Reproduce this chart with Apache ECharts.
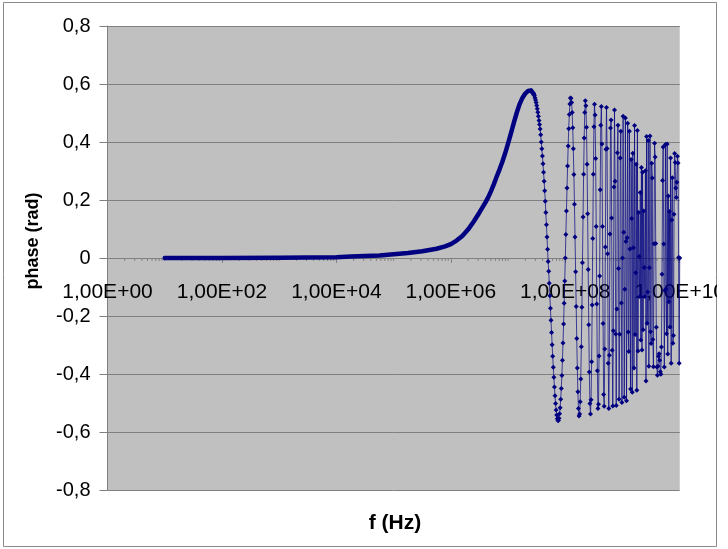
<!DOCTYPE html>
<html>
<head>
<meta charset="utf-8">
<script src="https://cdn.jsdelivr.net/npm/echarts@6/dist/echarts.min.js"></script>
<style>
  html, body { margin: 0; padding: 0; background: #ffffff; }
  #wrap { position: absolute; left: 0; top: 0; width: 717px; height: 549px; overflow: hidden; }
  #chart { width: 728px; height: 549px; }
</style>
</head>
<body>
<div id="wrap"><div id="chart"></div></div>
<script>
// Frequency is stored as its decade exponent: f = 10^decade Hz.
// Low-frequency band up to the first maximum (densely sampled, drawn as a solid trace).
const lowDecades = [1.0, 2.0, 3.0, 3.5, 4.0, 4.25, 4.5, 4.75, 5.0, 5.25,
  5.5, 5.75, 5.9, 6.0, 6.1, 6.2, 6.3, 6.4, 6.5, 6.6,
  6.65, 6.7, 6.75, 6.8, 6.85, 6.9, 6.95, 7.0, 7.05, 7.1,
  7.15, 7.2, 7.25, 7.3, 7.35, 7.4, 7.45];
const lowPhase = [0, 0, 0.001, 0.002, 0.003, 0.005, 0.007, 0.009, 0.013, 0.017,
  0.023, 0.032, 0.040, 0.048, 0.060, 0.076, 0.098, 0.126, 0.157, 0.19,
  0.208, 0.23, 0.254, 0.28, 0.305, 0.332, 0.362, 0.395, 0.43, 0.466,
  0.5, 0.53, 0.552, 0.567, 0.576, 0.578, 0.565];

// Sweep points from the first maximum to 10 GHz (one marker per sample).
const sweepDecades = [
  7.45, 7.46, 7.47, 7.48, 7.49,
  7.50, 7.51, 7.52, 7.53, 7.54, 7.55, 7.56, 7.57, 7.58, 7.59,
  7.60, 7.61, 7.62, 7.63, 7.64, 7.65, 7.66, 7.67, 7.68, 7.69,
  7.70, 7.71, 7.72, 7.73, 7.74, 7.75, 7.76, 7.77, 7.78, 7.79,
  7.80, 7.81, 7.82, 7.83, 7.84, 7.85, 7.86, 7.87, 7.88, 7.89,
  7.90, 7.91, 7.92, 7.93, 7.94, 7.95, 7.96, 7.97, 7.98, 7.99,
  8.00, 8.01, 8.02, 8.03, 8.04, 8.05, 8.06, 8.07, 8.08, 8.09,
  8.10, 8.11, 8.12, 8.13, 8.14, 8.15, 8.16, 8.17, 8.18, 8.19,
  8.20, 8.21, 8.22, 8.23, 8.24, 8.25, 8.26, 8.27, 8.28, 8.29,
  8.30, 8.31, 8.32, 8.33, 8.34, 8.35, 8.36, 8.37, 8.38, 8.39,
  8.40, 8.41, 8.42, 8.43, 8.44, 8.45, 8.46, 8.47, 8.48, 8.49,
  8.50, 8.51, 8.52, 8.53, 8.54, 8.55, 8.56, 8.57, 8.58, 8.59,
  8.60, 8.61, 8.62, 8.63, 8.64, 8.65, 8.66, 8.67, 8.68, 8.69,
  8.70, 8.71, 8.72, 8.73, 8.74, 8.75, 8.76, 8.77, 8.78, 8.79,
  8.80, 8.81, 8.82, 8.83, 8.84, 8.85, 8.86, 8.87, 8.88, 8.89,
  8.90, 8.91, 8.92, 8.93, 8.94, 8.95, 8.96, 8.97, 8.98, 8.99,
  9.00, 9.01, 9.02, 9.03, 9.04, 9.05, 9.06, 9.07, 9.08, 9.09,
  9.10, 9.11, 9.12, 9.13, 9.14, 9.15, 9.16, 9.17, 9.18, 9.19,
  9.20, 9.21, 9.22, 9.23, 9.24, 9.25, 9.26, 9.27, 9.28, 9.29,
  9.30, 9.31, 9.32, 9.33, 9.34, 9.35, 9.36, 9.37, 9.38, 9.39,
  9.40, 9.41, 9.42, 9.43, 9.44, 9.45, 9.46, 9.47, 9.48, 9.49,
  9.50, 9.51, 9.52, 9.53, 9.54, 9.55, 9.56, 9.57, 9.58, 9.59,
  9.60, 9.61, 9.62, 9.63, 9.64, 9.65, 9.66, 9.67, 9.68, 9.69,
  9.70, 9.71, 9.72, 9.73, 9.74, 9.75, 9.76, 9.77, 9.78, 9.79,
  9.80, 9.81, 9.82, 9.83, 9.84, 9.85, 9.86, 9.87, 9.88, 9.89,
  9.90, 9.91, 9.92, 9.93, 9.94, 9.95, 9.96, 9.97, 9.98, 9.99,
  10.00];
const sweepPhase = [
  0.565, 0.560, 0.553, 0.545, 0.536,
  0.526, 0.515, 0.503, 0.489, 0.474, 0.460, 0.445, 0.425, 0.400, 0.377,
  0.352, 0.325, 0.296, 0.265, 0.232, 0.196, 0.157, 0.115, 0.072, 0.030,
  -0.012, -0.046, -0.087, -0.130, -0.173, -0.215, -0.257, -0.299, -0.339, -0.377,
  -0.411, -0.445, -0.475, -0.502, -0.524, -0.541, -0.554, -0.560, -0.560, -0.553,
  -0.537, -0.516, -0.487, -0.450, -0.405, -0.353, -0.293, -0.228, -0.156, -0.079,
  0.000, 0.081, 0.162, 0.241, 0.317, 0.386, 0.446, 0.495, 0.531, 0.552,
  0.551, 0.536, 0.502, 0.449, 0.377, 0.288, 0.185, 0.072, -0.047, -0.167,
  -0.278, -0.379, -0.461, -0.519, -0.545, -0.538, -0.496, -0.417, -0.306, -0.170,
  -0.016, 0.141, 0.289, 0.414, 0.502, 0.542, 0.525, 0.451, 0.323, 0.153,
  -0.040, -0.230, -0.393, -0.502, -0.538, -0.489, -0.358, -0.162, 0.067, 0.289,
  0.453, 0.530, 0.493, 0.343, 0.109, -0.159, -0.389, -0.519, -0.504, -0.338,
  -0.062, 0.235, 0.458, 0.522, 0.393, 0.109, -0.226, -0.471, -0.511, -0.314,
  0.038, 0.375, 0.519, 0.378, 0.015, -0.363, -0.519, -0.335, 0.083, 0.448,
  0.476, 0.138, -0.318, -0.510, -0.251, 0.245, 0.510, 0.265, -0.262, -0.509,
  -0.176, 0.363, 0.458, -0.036, -0.487, -0.263, 0.345, 0.437, -0.155, -0.498,
  0.000, 0.489, 0.089, -0.480, -0.108, 0.483, 0.057, -0.492, 0.070, 0.465,
  -0.255, -0.322, 0.437, 0.031, -0.452, 0.340, 0.136, -0.463, 0.361, 0.035,
  -0.379, 0.457, -0.264, -0.051, 0.323, -0.456, 0.440, -0.321, 0.157, 0.005,
  -0.133, 0.226, -0.283, 0.312, -0.317, 0.296, -0.247, 0.162, -0.033, -0.133,
  0.301, -0.424, 0.419, -0.225, -0.117, 0.405, -0.373, -0.034, 0.421, -0.254,
  -0.295, 0.327, 0.276, -0.281, -0.375, 0.049, 0.396, 0.348, 0.050, -0.239,
  -0.376, -0.404, -0.373, -0.339, -0.330, -0.353, -0.392, -0.401, -0.307, -0.056,
  0.267, 0.383, 0.048, -0.376, -0.112, 0.391, -0.107, -0.261, 0.393, -0.331,
  0.214, -0.151, 0.160, -0.238, 0.345, -0.363, 0.131, 0.277, -0.294, -0.267,
  0.151, 0.360, 0.329, 0.241, 0.209, 0.261, 0.351, 0.328, 0.002, -0.363,
  0.000];

// Axis ranges and tick labels
const xDecadeMin = 0, xDecadeMax = 10, xDecadeStep = 2;
const yMin = -0.8, yMax = 0.8, yStep = 0.2;
const xTitle = 'f (Hz)';
const yTitle = 'phase (rad)';

const FONT = '"Liberation Sans", Arial, sans-serif';
const NAVY = '#000080';
const AXIS_GREY = '#808080';

// Plot frame (px)
const PLOT_TOP = 26, PLOT_BOTTOM = 490;

function pairs(xs, ys) { return xs.map((x, i) => [x, ys[i]]); }

// Minor tick positions of the logarithmic frequency axis (2..9 within each decade, odd decades)
const minorTicks = [];
for (let n = xDecadeMin; n < xDecadeMax; n++) {
  if (n % 2 === 1) minorTicks.push([n, 0]);
  for (let m = 2; m <= 9; m++) minorTicks.push([n + Math.log10(m), 0]);
}

function sciLabel(v) {
  const e = Math.round(v);
  return '1,00E+' + (e < 10 ? '0' + e : '' + e);
}
function commaLabel(v) {
  if (Math.abs(v) < 1e-9) return '0';
  return v.toFixed(1).replace('.', ',');
}

// The frequency axis crosses the phase axis at 0 rad (middle of the plot).
const zeroOffset = -(PLOT_BOTTOM - PLOT_TOP) * (0 - yMin) / (yMax - yMin);

const chart = echarts.init(document.getElementById('chart'), null, { renderer: 'canvas' });
chart.setOption({
  animation: false,
  backgroundColor: '#ffffff',
  grid: {
    left: 107.5, right: 48, top: PLOT_TOP, bottom: 549 - PLOT_BOTTOM,
    show: true, backgroundColor: '#C0C0C0', borderWidth: 0
  },
  xAxis: {
    type: 'value', position: 'bottom', offset: zeroOffset,
    min: xDecadeMin, max: xDecadeMax, interval: xDecadeStep,
    axisLine: { show: true, onZero: false, lineStyle: { color: AXIS_GREY, width: 1 } },
    axisTick: { show: true, length: 5, lineStyle: { color: AXIS_GREY } },
    axisLabel: {
      formatter: sciLabel, color: '#000', fontFamily: FONT, fontSize: 21,
      margin: 24, showMinLabel: true, showMaxLabel: true, hideOverlap: false
    },
    splitLine: { show: false }
  },
  yAxis: {
    type: 'value',
    min: yMin, max: yMax, interval: yStep,
    axisLine: { show: true, onZero: false, lineStyle: { color: AXIS_GREY, width: 1 } },
    axisTick: { show: true, length: 8, lineStyle: { color: AXIS_GREY } },
    axisLabel: { formatter: commaLabel, color: '#000', fontFamily: FONT, fontSize: 20, margin: 17 },
    splitLine: { show: true, lineStyle: { color: AXIS_GREY, width: 1 } }
  },
  graphic: [
    {
      type: 'rect', silent: true,
      shape: { x: 3.5, y: 2.5, width: 713, height: 544 },
      style: { fill: 'none', stroke: '#8a8a8a', lineWidth: 1 }
    },
    {
      type: 'text', x: 395, y: 523, silent: true,
      style: { text: xTitle, font: 'bold 21px ' + FONT, fill: '#000', align: 'center', verticalAlign: 'middle' }
    },
    {
      type: 'text', x: 33, y: 241, rotation: Math.PI / 2, silent: true,
      style: { text: yTitle, font: 'bold 18px ' + FONT, fill: '#000', align: 'center', verticalAlign: 'middle' }
    }
  ],
  series: [
    {
      type: 'custom', name: 'minor ticks', silent: true, z: 1,
      data: minorTicks,
      renderItem: function (params, api) {
        const p = api.coord([api.value(0), 0]);
        return {
          type: 'line',
          shape: { x1: p[0], y1: p[1], x2: p[0], y2: p[1] + 3 },
          style: { stroke: AXIS_GREY, lineWidth: 1 }
        };
      }
    },
    {
      type: 'line', name: 'phase', z: 3,
      data: pairs(lowDecades, lowPhase),
      showSymbol: false, symbol: 'none',
      lineStyle: { color: NAVY, width: 4.5, cap: 'round', join: 'round' }
    },
    {
      type: 'line', name: 'phase sweep', z: 4,
      data: pairs(sweepDecades, sweepPhase),
      showSymbol: true, symbol: 'diamond', symbolSize: 5,
      itemStyle: { color: NAVY },
      lineStyle: { color: NAVY, width: 0.7 }
    }
  ]
});
</script>
</body>
</html>
